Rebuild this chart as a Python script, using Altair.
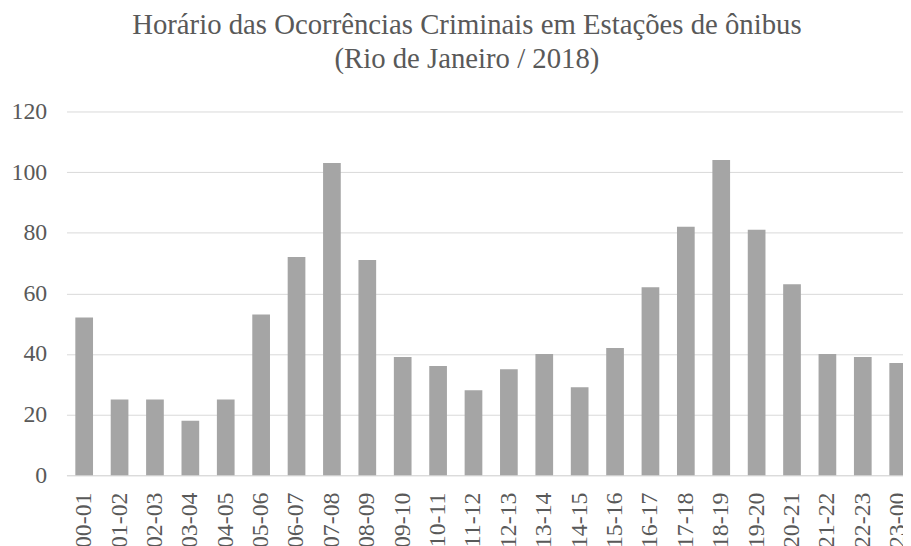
import altair as alt
import pandas as pd

horarios = ["00-01", "01-02", "02-03", "03-04", "04-05", "05-06", "06-07", "07-08",
            "08-09", "09-10", "10-11", "11-12", "12-13", "13-14", "14-15", "15-16",
            "16-17", "17-18", "18-19", "19-20", "20-21", "21-22", "22-23", "23-00"]
ocorrencias = [52, 25, 25, 18, 25, 53, 72, 103, 71, 39, 36, 28, 35, 40, 29, 42,
               62, 82, 104, 81, 63, 40, 39, 37]
y_ticks = [0, 20, 40, 60, 80, 100, 120]
titulo = ["Horário das Ocorrências Criminais em Estações de ônibus",
          "(Rio de Janeiro / 2018)"]

df = pd.DataFrame({"horario": horarios, "ocorrencias": ocorrencias})

FONT = "Liberation Serif"
TXT = "#595959"

chart = alt.Chart(df).mark_bar(color="#a5a5a5").encode(
    x=alt.X("horario:N", sort=horarios,
            scale=alt.Scale(range=[0, 857], paddingInner=0.5, paddingOuter=0.25),
            axis=alt.Axis(title=None, labelAngle=-90, labelFont=FONT, labelFontSize=24,
                          labelColor=TXT, ticks=False, domainColor="#d9d9d9",
                          domainWidth=1, labelPadding=17, grid=False)),
    y=alt.Y("ocorrencias:Q",
            scale=alt.Scale(domain=[0, 120], nice=False),
            axis=alt.Axis(title=None, values=y_ticks, labelFont=FONT, labelFontSize=24,
                          labelColor=TXT, ticks=False, domain=False, labelPadding=20,
                          gridColor="#d9d9d9", gridWidth=1)),
).properties(
    width=844,
    height=367,
    title=alt.TitleParams(text=titulo, font=FONT, fontSize=29, fontWeight="normal",
                          color=TXT, anchor="middle", dx=-18, offset=26, lineHeight=34),
    autosize=alt.AutoSizeParams(type="none"),
    padding={"left": 59, "top": 102, "right": 0, "bottom": 69},
).configure_view(stroke=None)

chart.save("out.html", embed_options={"renderer": "svg", "actions": False})
